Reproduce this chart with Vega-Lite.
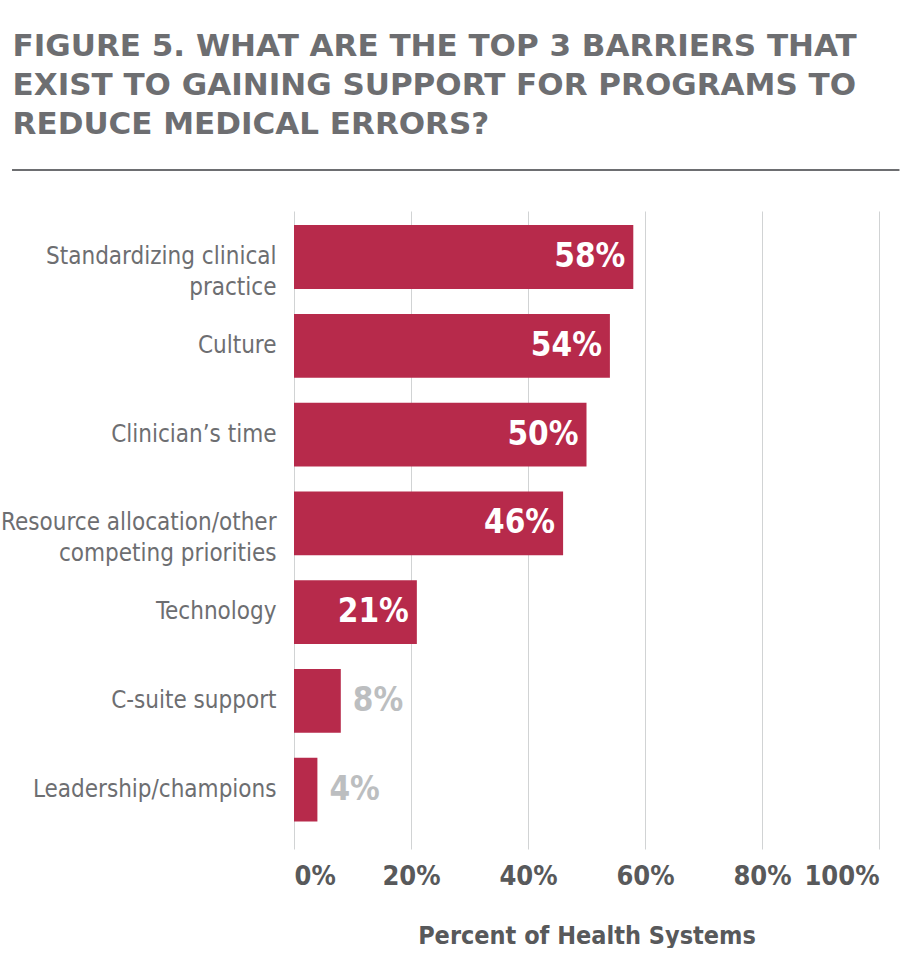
{
  "$schema": "https://vega.github.io/schema/vega-lite/v6.json",
  "background": "white",
  "padding": {"left": 0, "top": 31, "right": 0, "bottom": 0},
  "title": {
    "text": ["FIGURE 5. WHAT ARE THE TOP 3 BARRIERS THAT", "EXIST TO GAINING SUPPORT FOR PROGRAMS TO", "REDUCE MEDICAL ERRORS?"],
    "anchor": "start", "frame": "bounds", "font": "DejaVu Sans", "fontWeight": "bold",
    "fontSize": 31, "lineHeight": 39, "color": "#6d6e71", "offset": 28, "dx": 12
  },
  "datasets": {
    "barriers": [
      {"barrier": "Standardizing clinical|practice", "pct": 0.58},
      {"barrier": "Culture", "pct": 0.54},
      {"barrier": "Clinician’s time", "pct": 0.50},
      {"barrier": "Resource allocation/other|competing priorities", "pct": 0.46},
      {"barrier": "Technology", "pct": 0.21},
      {"barrier": "C-suite support", "pct": 0.08},
      {"barrier": "Leadership/champions", "pct": 0.04}
    ],
    "sep": [{"v": 1}]
  },
  "spacing": 40,
  "vconcat": [
    {
      "data": {"name": "sep"},
      "width": 585, "height": 1,
      "mark": {"type": "rule", "stroke": "#6d6e71", "strokeWidth": 2},
      "encoding": {
        "x": {"datum": -0.482, "type": "quantitative", "axis": null, "scale": {"domain": [0, 1]}},
        "x2": {"datum": 1.035},
        "y": {"field": "v", "type": "quantitative", "axis": null, "scale": {"domain": [0, 1]}}
      }
    },
    {
      "data": {"name": "barriers"},
      "width": 585, "height": 638,
      "encoding": {
        "y": {
          "field": "barrier", "type": "nominal", "sort": null,
          "scale": {"paddingInner": 0.28, "paddingOuter": 0.234, "align": 0.34},
          "axis": {
            "title": null, "domain": false, "ticks": false, "grid": false,
            "labelFont": "DejaVu Sans Condensed", "labelFontSize": 24, "labelColor": "#6d6e71",
            "labelPadding": 18, "labelLineHeight": 31, "labelLimit": 400,
            "labelExpr": "split(datum.value, '|')"
          }
        }
      },
      "layer": [
        {
          "mark": {"type": "bar", "color": "#b72a4b"},
          "encoding": {
            "x": {
              "field": "pct", "type": "quantitative",
              "scale": {"domain": [0, 1], "nice": false},
              "axis": {
                "title": "Percent of Health Systems",
                "values": [0, 0.2, 0.4, 0.6, 0.8, 1],
                "format": ".0%",
                "domain": false, "ticks": false, "grid": true, "gridColor": "#d1d3d4", "gridWidth": 1,
                "labelFont": "DejaVu Sans Condensed", "labelFontWeight": "bold", "labelFontSize": 27,
                "labelColor": "#58595b", "labelPadding": 14,
                "titleFont": "DejaVu Sans Condensed", "titleFontWeight": "bold", "titleFontSize": 25,
                "titleColor": "#58595b", "titlePadding": 34
              }
            }
          }
        },
        {
          "transform": [{"filter": "datum.pct >= 0.15"}],
          "mark": {"type": "text", "align": "right", "baseline": "middle", "dx": -8,
                   "font": "DejaVu Sans Condensed", "fontWeight": "bold", "fontSize": 33, "color": "white"},
          "encoding": {
            "x": {"field": "pct", "type": "quantitative"},
            "text": {"field": "pct", "type": "quantitative", "format": ".0%"}
          }
        },
        {
          "transform": [{"filter": "datum.pct < 0.15"}],
          "mark": {"type": "text", "align": "left", "baseline": "middle", "dx": 12,
                   "font": "DejaVu Sans Condensed", "fontWeight": "bold", "fontSize": 33, "color": "#bcbec0"},
          "encoding": {
            "x": {"field": "pct", "type": "quantitative"},
            "text": {"field": "pct", "type": "quantitative", "format": ".0%"}
          }
        }
      ]
    }
  ],
  "config": {"view": {"stroke": null}}
}
